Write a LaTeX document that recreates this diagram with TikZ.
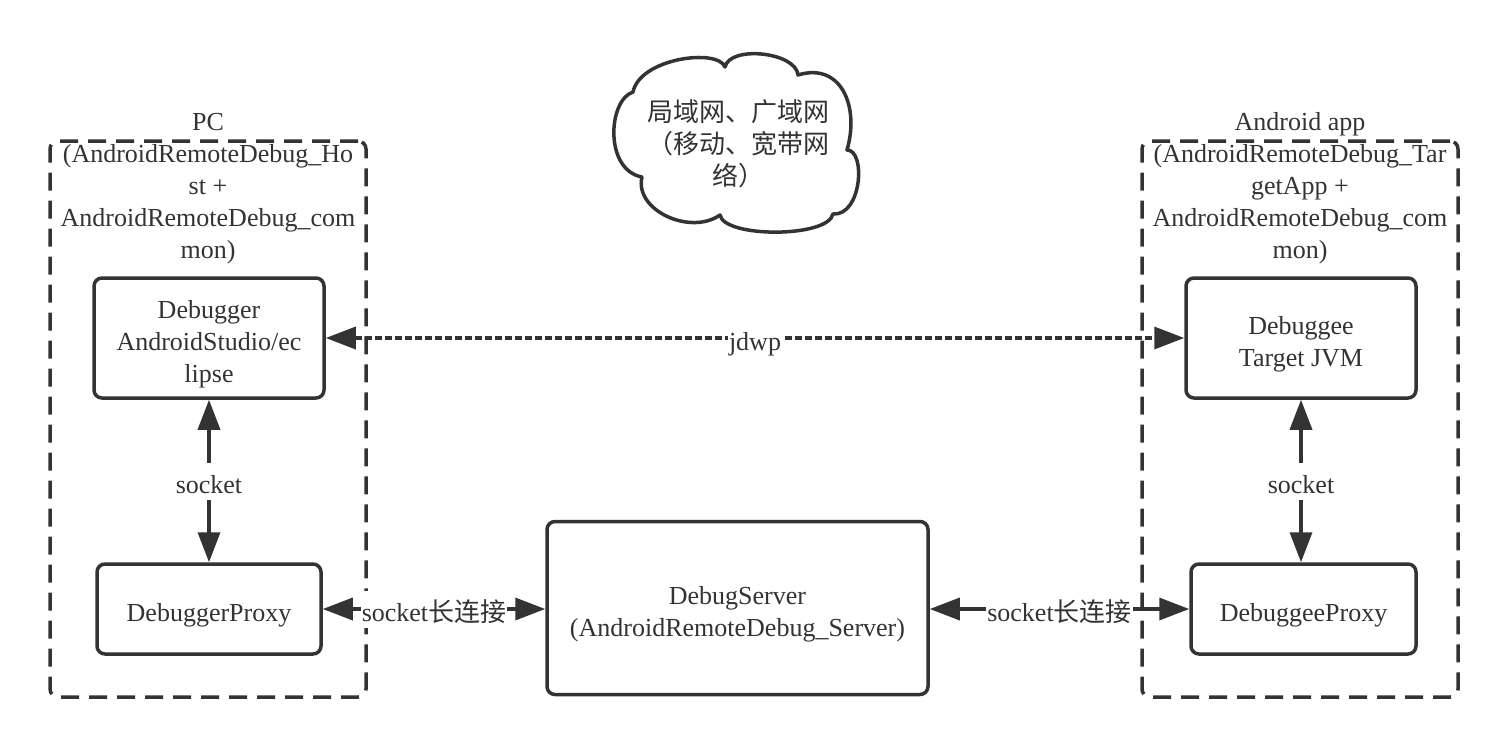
\documentclass[tikz,border=0pt]{standalone}
\usepackage{fontspec}
\setmainfont{Liberation Serif}
\newfontfamily\cjk{Noto Sans CJK SC}
\usetikzlibrary{arrows.meta, positioning}
\definecolor{ink}{HTML}{333333}
\newcommand{\lstrut}{\rule[-6pt]{0pt}{37pt}}
\newcommand{\nodefont}{\fontsize{26}{32}\selectfont\lineskiplimit=-\maxdimen}
\tikzset{
    block/.style={rectangle, draw=ink, line width=3.5pt, rounded corners=8pt, fill=white, text=ink, align=center},
    group/.style={rectangle, draw=ink, line width=3.5pt, rounded corners=8pt, dash pattern=on 18pt off 10pt, minimum width=316pt, minimum height=556pt},
    title/.style={text=ink, align=center},
    arrow/.style={draw=ink, line width=3.5pt, <->, >={Triangle[length=30pt, width=22pt]}},
    lbl/.style={fill=white, text=ink, inner xsep=1pt, inner ysep=0pt},
    cjkfont/.style={font=\nodefont\cjk}
}
\begin{document}
\begin{tikzpicture}[x=1pt, y=-1pt, font=\nodefont]
    \useasboundingbox (0,0) rectangle (1508,748);

    % Groups
    \node[group] (pc) at (208,419) {};
    \node[title] (pctitle) at (208,181.5) {\lstrut PC\\\lstrut(AndroidRemoteDebug\_Ho\\\lstrut st +\\\lstrut AndroidRemoteDebug\_com\\\lstrut mon)};
    \node[group] (app) at (1300,419) {};
    \node[title] (apptitle) at (1300,181.5) {\lstrut Android app\\\lstrut(AndroidRemoteDebug\_Tar\\\lstrut getApp +\\\lstrut AndroidRemoteDebug\_com\\\lstrut mon)};

    % Cloud
    \draw[ink, line width=3.5pt, line join=round, fill=white] (633,92) .. controls (608,100) and (604,170) .. (642,177)
        .. controls (634,210) and (690,236) .. (720,215)
        .. controls (724,238) and (828,238) .. (833,214)
        .. controls (862,216) and (866,150) .. (847,150)
        .. controls (860,105) and (840,62) .. (798,75)
        .. controls (796,52) and (730,45) .. (725,67)
        .. controls (718,48) and (640,58) .. (633,92) -- cycle;
    \node[title, cjkfont] (net) at (738,140.5) {\lstrut 局域网、广域网\\\lstrut（移动、宽带网\\\lstrut 络）};

    % PC side
    \node[block, minimum width=230pt, minimum height=120pt] (dbg) at (209,338) {\lstrut Debugger\\\lstrut AndroidStudio/ec\\\lstrut lipse};
    \node[block, minimum width=224pt, minimum height=90pt, below=162.5pt of dbg] (dbgproxy) {\lstrut DebuggerProxy};

    % App side
    \node[block, minimum width=230pt, minimum height=120pt] (dbgee) at (1301,338) {\lstrut Debuggee\\\lstrut Target JVM};
    \node[block, minimum width=225pt, minimum height=90pt] (dbgeeproxy) at (1303.5,609) {\lstrut DebuggeeProxy};

    % Server
    \node[block, minimum width=381pt, minimum height=173pt] (server) at (737.5,608) {\lstrut DebugServer\\\lstrut(AndroidRemoteDebug\_Server)};

    % Connections
    \draw[arrow, dash pattern=on 7pt off 3pt] (dbg) -- node[lbl] (jdwp) {\lstrut jdwp} (dbgee);
    \draw[arrow] (dbg) -- node[lbl] (sockpc) {\lstrut socket} (dbgproxy);
    \draw[arrow] (dbgee.south) -- node[lbl] (sockapp) {\lstrut socket} (dbgee.south |- dbgeeproxy.north);
    \draw[arrow] (dbgproxy) -- node[lbl] (linkpc) {\lstrut socket{\cjk 长连接}} (dbgproxy -| server.west);
    \draw[arrow] (server.east |- dbgeeproxy) -- node[lbl] (linkapp) {\lstrut socket{\cjk 长连接}} (dbgeeproxy);

\end{tikzpicture}
\end{document}
